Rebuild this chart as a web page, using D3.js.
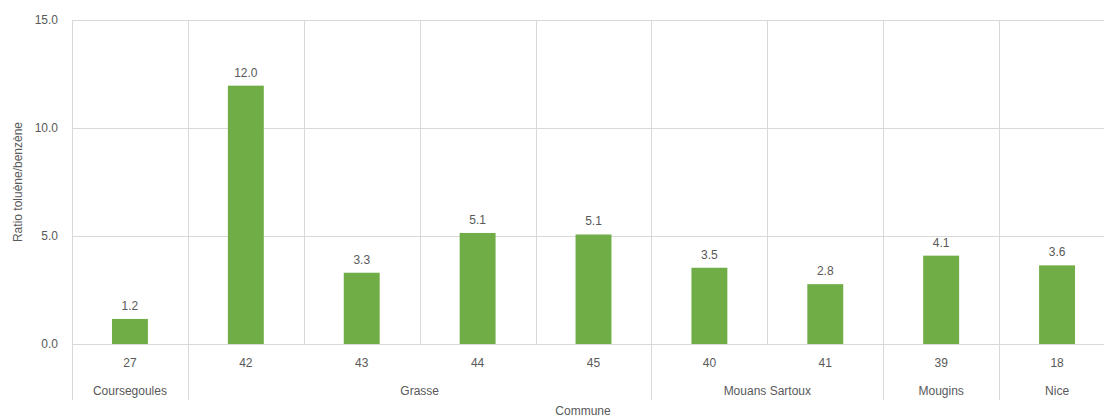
<!DOCTYPE html>
<html>
<head>
<meta charset="utf-8">
<script src="https://cdn.jsdelivr.net/npm/d3@7"></script>
<style>
  body { margin: 0; background: #fff; }
  svg text { font-family: "Liberation Sans Narrow", "Liberation Sans", Arial, sans-serif; fill: #595959; }
</style>
</head>
<body>
<div id="chart"></div>
<script>
// sites (numbers) and their communes
var sites = ["27", "42", "43", "44", "45", "40", "41", "39", "18"]
var communes = ["Coursegoules", "Grasse", "Grasse", "Grasse", "Grasse", "Mouans Sartoux", "Mouans Sartoux", "Mougins", "Nice"]
var ratios = [1.16, 11.96, 3.3, 5.14, 5.07, 3.53, 2.77, 4.09, 3.64]
var yTicks = [0, 5, 10, 15]

var width = 1104, height = 417
var margin = {left: 72, right: -11, top: 20, bottom: 73}
var svg = d3.select("#chart").append("svg").attr("width", width).attr("height", height)

var x = d3.scaleBand().domain(sites).range([margin.left, width - margin.right]).paddingInner(0).paddingOuter(0)
var y = d3.scaleLinear().domain([0, 15]).range([height - margin.bottom, margin.top])
var barW = x.bandwidth() * 0.31
var grid = "#d9d9d9"

// horizontal gridlines
svg.selectAll(".hgrid").data(yTicks).enter().append("line")
    .attr("x1", margin.left).attr("x2", width - margin.right)
    .attr("y1", function(d){ return Math.round(y(d)) + 0.5 }).attr("y2", function(d){ return Math.round(y(d)) + 0.5 })
    .attr("stroke", grid).attr("stroke-width", 1)

// vertical gridlines in the plot (one at each band edge)
var edges = sites.map(function(s){ return x(s) }).concat([x(sites[sites.length-1]) + x.bandwidth()])
svg.selectAll(".vgrid").data(edges).enter().append("line")
    .attr("x1", function(d){ return Math.round(d) + 0.5 }).attr("x2", function(d){ return Math.round(d) + 0.5 })
    .attr("y1", y(15)).attr("y2", y(0))
    .attr("stroke", grid)

// group separators below axis
var groups = []
communes.forEach(function(c, i){
    if (groups.length && groups[groups.length-1].name === c){
        groups[groups.length-1].end = i
    } else {
        groups.push({name: c, start: i, end: i})
    }
})
var sepX = groups.map(function(g){ return x(sites[g.start]) }).concat([x(sites[sites.length-1]) + x.bandwidth()])
svg.selectAll(".sep").data(sepX).enter().append("line")
    .attr("x1", function(d){ return Math.round(d) + 0.5 }).attr("x2", function(d){ return Math.round(d) + 0.5 })
    .attr("y1", y(0)).attr("y2", 400)
    .attr("stroke", grid)

// bars
svg.selectAll(".bar").data(ratios).enter().append("rect")
    .attr("x", function(d, i){ return x(sites[i]) + (x.bandwidth() - barW) / 2 })
    .attr("width", barW)
    .attr("y", function(d){ return y(d) })
    .attr("height", function(d){ return y(0) - y(d) })
    .attr("fill", "#70ad47")

// value labels
svg.selectAll(".val").data(ratios).enter().append("text")
    .attr("x", function(d, i){ return x(sites[i]) + x.bandwidth() / 2 })
    .attr("y", function(d){ return y(d) - 9 })
    .attr("text-anchor", "middle").attr("font-size", 12)
    .text(function(d){ return d3.format(".1f")(d) })

// y axis labels
svg.selectAll(".ytick").data(yTicks).enter().append("text")
    .attr("x", 58).attr("y", function(d){ return y(d) + 4 })
    .attr("text-anchor", "end").attr("font-size", 12)
    .text(function(d){ return d3.format(".1f")(d) })

// site labels
svg.selectAll(".site").data(sites).enter().append("text")
    .attr("x", function(d){ return x(d) + x.bandwidth() / 2 })
    .attr("y", 367)
    .attr("text-anchor", "middle").attr("font-size", 12)
    .text(function(d){ return d })

// commune labels
svg.selectAll(".grp").data(groups).enter().append("text")
    .attr("x", function(g){ return (x(sites[g.start]) + x(sites[g.end]) + x.bandwidth()) / 2 })
    .attr("y", 395)
    .attr("text-anchor", "middle").attr("font-size", 12)
    .text(function(g){ return g.name })

// axis titles
svg.append("text").attr("x", 583).attr("y", 415)
    .attr("text-anchor", "middle").attr("font-size", 12).text("Commune")
svg.append("text").attr("transform", "translate(22," + 182 + ") rotate(-90)")
    .attr("text-anchor", "middle").attr("font-size", 12).text("Ratio toluène/benzène")
</script>
</body>
</html>
